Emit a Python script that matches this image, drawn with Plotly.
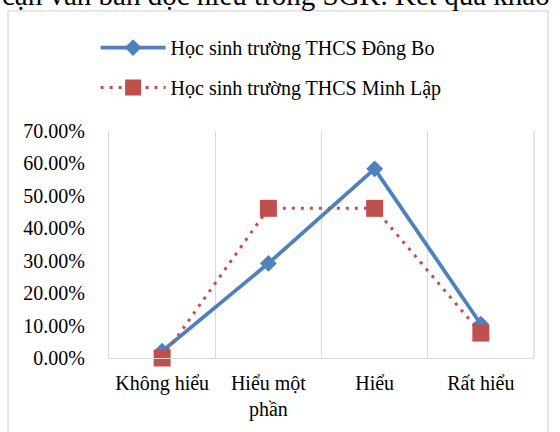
import plotly.graph_objects as go

categories = ["Không hiểu", "Hiểu một<br>phần", "Hiểu", "Rất hiểu"]
dong_bo = [0.0208, 0.2917, 0.5833, 0.1042]
minh_lap = [0.0, 0.4615, 0.4615, 0.0769]
series_names = ["Học sinh trường THCS Đông Bo", "Học sinh trường THCS Minh Lập"]
y_ticks = [0, 0.1, 0.2, 0.3, 0.4, 0.5, 0.6, 0.7]

FONT = "Liberation Serif, Times New Roman, serif"
GRID = "#d9d9d9"

fig = go.Figure()
fig.add_trace(go.Scatter(
    x=categories, y=dong_bo, name=series_names[0], mode="lines+markers",
    line=dict(color="#4F81BD", width=3.8),
    marker=dict(symbol="diamond", size=13, color="#4F81BD"),
    cliponaxis=False, legendgroup="a",
))
fig.add_trace(go.Scatter(
    x=categories, y=minh_lap, name=series_names[1], mode="lines+markers",
    line=dict(color="#C0504D", width=3, dash="3px,6px"),
    marker=dict(symbol="square", size=17, color="#C0504D"),
    cliponaxis=False, legendgroup="b",
))

fig.update_layout(
    width=560, height=432,
    margin=dict(l=109, r=26, t=131, b=74, autoexpand=False),
    paper_bgcolor="white", plot_bgcolor="white",
    font=dict(family=FONT, size=20, color="black"),
    showlegend=True,
    legend=dict(
        xref="container", yref="container", x=0.1707, y=0.935,
        xanchor="left", yanchor="top", orientation="v",
        itemwidth=65, tracegroupgap=11, font=dict(size=20),
        bgcolor="rgba(0,0,0,0)",
    ),
    xaxis=dict(
        type="category", tickson="boundaries", showgrid=True, gridcolor=GRID,
        gridwidth=1.3, showline=True, linecolor=GRID, linewidth=1.3,
        ticks="", ticklabelstandoff=7, range=[-0.5, 3.5], mirror=False,
        tickangle=0, automargin=False,
    ),
    yaxis=dict(
        range=[0, 0.7], tickvals=y_ticks, tickformat=".2%", showgrid=False,
        zeroline=False, showline=True, linecolor=GRID, linewidth=1.3,
        ticks="", ticklabelstandoff=19, automargin=False,
    ),
    shapes=[
        # chart frame
        dict(type="rect", xref="paper", yref="paper",
             x0=-0.2376, x1=1.0329, y0=-0.4, y1=1.529,
             line=dict(color=GRID, width=1.3), fillcolor="rgba(0,0,0,0)",
             layer="below"),
        # right boundary line of plot area
        dict(type="line", xref="paper", yref="paper", x0=1, x1=1, y0=0, y1=1,
             line=dict(color=GRID, width=1.3), layer="below"),
    ],
    annotations=[
        dict(text="cận văn bản đọc hiểu trong SGK. Kết quả khảo",
             xref="paper", yref="paper", x=-0.2565, y=1.60,
             xanchor="left", yanchor="middle", showarrow=False,
             font=dict(size=29, family=FONT)),
    ],
)

fig.write_html("out.html")
